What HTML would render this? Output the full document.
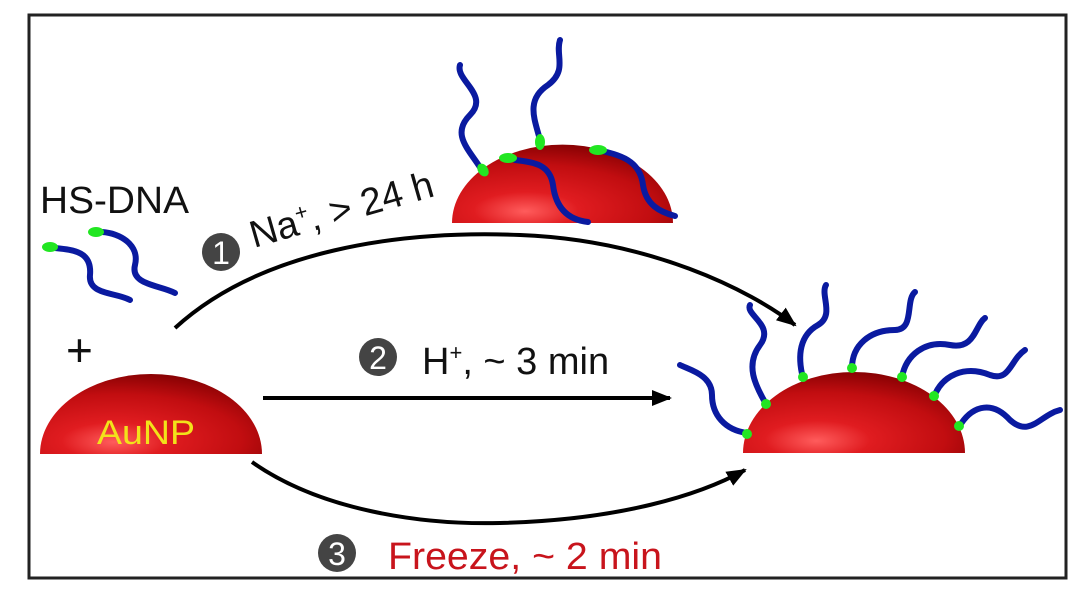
<!DOCTYPE html>
<html><head><meta charset="utf-8"><style>
html,body{margin:0;padding:0;background:#fff;}
svg{display:block;}
text{font-family:"Liberation Sans",Arial,sans-serif;}
</style></head><body>
<svg width="1080" height="597" viewBox="0 0 1080 597" xmlns="http://www.w3.org/2000/svg">
<defs>
<radialGradient id="rg" cx="0.35" cy="0.8" r="0.95" fx="0.33" fy="0.85">
<stop offset="0" stop-color="#ff5c5c"/>
<stop offset="0.25" stop-color="#e01c20"/>
<stop offset="0.6" stop-color="#c10d10"/>
<stop offset="0.85" stop-color="#8c0204"/>
<stop offset="1" stop-color="#650000"/>
</radialGradient>
<marker id="ah2" markerWidth="20" markerHeight="16" refX="18" refY="8" orient="auto" markerUnits="userSpaceOnUse">
<path d="M0,0 L20,8 L0,16 Z" fill="#000"/>
</marker>
</defs>
<rect x="29" y="15" width="1037" height="563" fill="#fff" stroke="#222" stroke-width="3"/>

<path d="M40,454 A111,80 0 0 1 262,454 Z" fill="url(#rg)"/>
<path d="M452,223 A110,78 0 0 1 673,223 Z" fill="url(#rg)"/>
<path d="M743,453 A111,81 0 0 1 965,453 Z" fill="url(#rg)"/>

<g fill="none" stroke="#0a1aa0" stroke-width="6" stroke-linecap="round">
<path d="M55,248 C75,250 92,252 90,275 C88,295 115,292 130,300"/>
<path d="M102,232 C120,233 140,245 135,265 C130,285 160,285 175,293"/>
<path d="M483,172 C470,150 450,135 470,115 C490,95 455,80 460,65"/>
<path d="M515,160 C535,162 550,165 553,185 C556,210 570,220 588,222"/>
<path d="M540,140 C535,120 525,100 548,85 C568,70 555,55 560,40"/>
<path d="M598,150 C620,155 640,160 643,185 C646,205 660,212 675,216"/>
<path d="M747,433 C725,430 712,415 712,395 C712,375 690,370 680,365"/>
<path d="M766,404 C755,385 745,365 760,345 C775,325 745,315 750,305"/>
<path d="M803,378 C797,355 800,335 818,325 C835,315 820,295 826,285"/>
<path d="M852,368 C852,345 870,330 895,330 C915,330 905,300 915,292"/>
<path d="M902,377 C906,355 925,340 950,345 C975,350 975,325 985,318"/>
<path d="M934,397 C942,375 965,365 990,375 C1010,382 1010,360 1025,350"/>
<path d="M959,427 C970,408 990,398 1010,420 C1030,438 1040,415 1060,410"/>
</g>
<g fill="#22e622">
<ellipse cx="50" cy="247" rx="8" ry="5"/>
<ellipse cx="96" cy="232" rx="8" ry="5"/>
<ellipse cx="483" cy="170" rx="5" ry="7" transform="rotate(-35 483 170)"/>
<ellipse cx="508" cy="158" rx="9" ry="5"/>
<ellipse cx="540" cy="142" rx="5" ry="8"/>
<ellipse cx="598" cy="150" rx="9" ry="5"/>
<ellipse cx="747" cy="434" rx="5" ry="5"/>
<ellipse cx="766" cy="404" rx="5" ry="5"/>
<ellipse cx="803" cy="377" rx="5" ry="5"/>
<ellipse cx="852" cy="368" rx="5" ry="5"/>
<ellipse cx="902" cy="377" rx="5" ry="5"/>
<ellipse cx="934" cy="396" rx="5" ry="5"/>
<ellipse cx="959" cy="426" rx="5" ry="5"/>
</g>

<path d="M175,328 C260,250 400,230 520,235 C650,240 750,290 795,325" fill="none" stroke="#000" stroke-width="4" marker-end="url(#ah2)"/>
<line x1="263" y1="398" x2="670" y2="398" stroke="#000" stroke-width="4" marker-end="url(#ah2)"/>
<path d="M252,462 C320,510 420,525 500,523 C620,520 700,495 745,470" fill="none" stroke="#000" stroke-width="4" marker-end="url(#ah2)"/>

<text x="40" y="213" font-size="38" fill="#111" textLength="149" lengthAdjust="spacingAndGlyphs">HS-DNA</text>
<text x="66" y="366" font-size="46" fill="#111">+</text>
<text x="97" y="444" font-size="34" fill="#f2e21a" textLength="98" lengthAdjust="spacingAndGlyphs">AuNP</text>

<circle cx="221" cy="252" r="19" fill="#444"/>
<text x="221" y="264" font-size="32" fill="#fff" text-anchor="middle">1</text>
<text x="0" y="0" font-size="38" fill="#111" transform="translate(254,248) rotate(-16)">Na<tspan font-size="22" dy="-14">+</tspan><tspan dy="14">, &gt; 24 h</tspan></text>

<circle cx="378" cy="357" r="19" fill="#444"/>
<text x="378" y="369" font-size="32" fill="#fff" text-anchor="middle">2</text>
<text x="422" y="374" font-size="38" fill="#111">H<tspan font-size="22" dy="-14">+</tspan><tspan dy="14">, ~ 3 min</tspan></text>

<circle cx="337" cy="553" r="19" fill="#444"/>
<text x="337" y="565" font-size="32" fill="#fff" text-anchor="middle">3</text>
<text x="388" y="569" font-size="38" fill="#c8141c" textLength="274" lengthAdjust="spacingAndGlyphs">Freeze, ~ 2 min</text>
</svg>
</body></html>
